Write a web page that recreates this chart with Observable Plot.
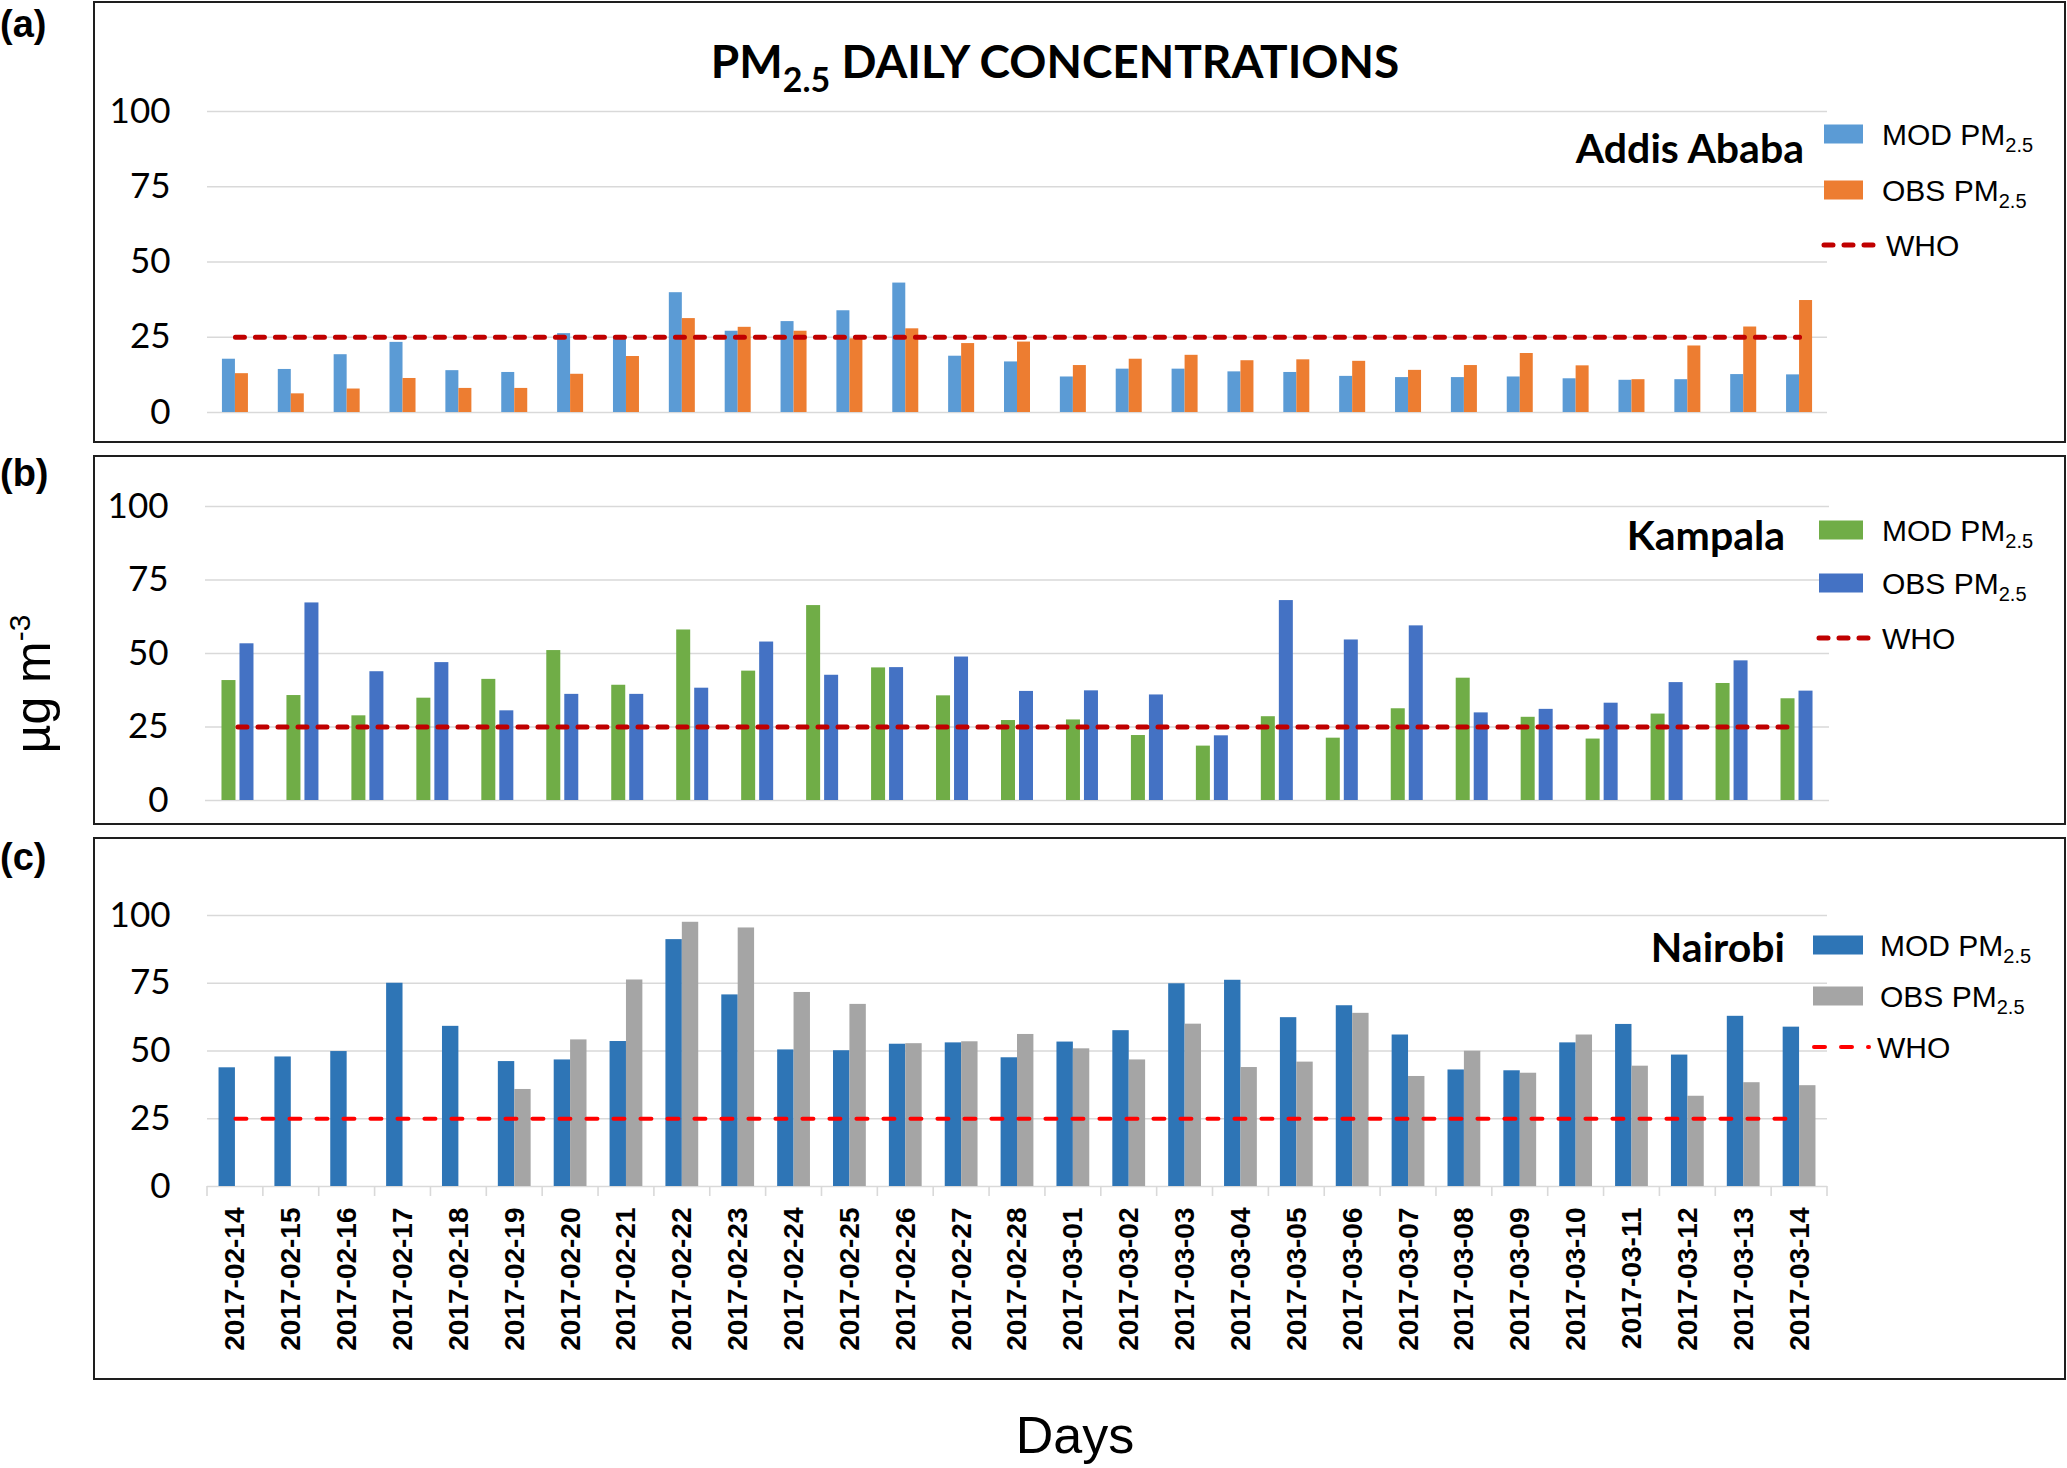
<!DOCTYPE html>
<html>
<head>
<meta charset="utf-8">
<script src="https://cdn.jsdelivr.net/npm/d3@7"></script>
<script src="https://cdn.jsdelivr.net/npm/@observablehq/plot@0.6"></script>
<style>
  html, body { margin: 0; padding: 0; background: #fff; overflow: hidden; }
  #root { position: relative; width: 2067px; height: 1468px; background: #fff; overflow: hidden; }
  .box { position: absolute; border: 2.5px solid #1e1e1e; box-sizing: border-box; }
  .plot { position: absolute; left: 0; }
  .overlay { position: absolute; left: 0; top: 0; }
</style>
</head>
<body>
<div id="root"></div>
<script>
// ---------------- DATA ----------------
const days = ["2017-02-14","2017-02-15","2017-02-16","2017-02-17","2017-02-18","2017-02-19","2017-02-20",
  "2017-02-21","2017-02-22","2017-02-23","2017-02-24","2017-02-25","2017-02-26","2017-02-27","2017-02-28",
  "2017-03-01","2017-03-02","2017-03-03","2017-03-04","2017-03-05","2017-03-06","2017-03-07","2017-03-08",
  "2017-03-09","2017-03-10","2017-03-11","2017-03-12","2017-03-13","2017-03-14"];
const kampalaDays = ["1","2","3","4","5","6","7","8","9","10","11","12","13","14","15","16","17","18","19","20","21","22","23","24","25"];
const tickValues = [0, 25, 50, 75, 100];
const whoLimit = 25;

const addisMod = [17.7,14.3,19.2,23.3,13.9,13.3,26.2,25.3,39.8,27.0,30.2,33.8,43.0,18.7,16.8,11.8,14.4,14.4,13.5,13.3,12.0,11.6,11.6,11.8,11.2,10.7,10.9,12.6,12.5];
const addisObs = [12.9,6.2,7.8,11.3,8.0,8.0,12.7,18.6,31.2,28.3,27.0,24.5,27.8,22.9,23.4,15.6,17.7,19.0,17.2,17.5,17.0,14.0,15.6,19.6,15.5,10.9,22.1,28.4,37.2];

const kampalaMod = [40.8,35.7,28.8,34.8,41.2,51.0,39.2,58.0,44.0,66.3,45.1,35.6,27.2,27.4,22.1,18.5,28.5,21.2,31.2,41.6,28.3,20.9,29.4,39.8,34.6];
const kampalaObs = [53.3,67.2,43.8,46.9,30.5,36.1,36.1,38.2,53.9,42.6,45.2,48.8,37.1,37.3,35.9,22.0,68.0,54.6,59.4,29.8,31.0,33.1,40.1,47.5,37.2];

const nairobiMod = [43.8,47.8,49.8,75.0,59.1,46.1,46.7,53.5,91.1,70.7,50.4,50.1,52.5,53.0,47.5,53.3,57.5,74.8,76.1,62.3,66.7,55.9,43.0,42.7,53.0,59.8,48.5,62.8,58.8];
const nairobiObs = [null,null,null,null,null,35.8,54.1,76.2,97.5,95.4,71.6,67.2,52.7,53.4,56.1,50.8,46.7,59.9,43.9,45.9,63.9,40.6,49.9,41.8,55.9,44.4,33.3,38.3,37.2];

const seriesNames = ["MOD PM", "OBS PM"];
const subText = "2.5";

// ---------------- LAYOUT ----------------
const W = 2067, H = 1468;
const panels = [
  { tag: "(a)", tagY: 37, city: "Addis Ababa", cityX: 1804, cityY: 163,
    cats: days, mod: addisMod, obs: addisObs,
    modColor: "#5B9BD5", obsColor: "#ED7D31", whoColor: "#C00000",
    boxTop: 1, boxH: 442, top: 0, height: 443, mt: 111, mb: 31, ml: 207, mr: 240,
    barW: 13, gap: 0, whoWidth: 5, whoDash: "9,11", showX: false,
    leg: { sx: 1824, sw: 39, sh: 19, c: [134, 190], who: 245, tx: 1882, wx1: 1824, wx2: 1873, wtx: 1886 } },
  { tag: "(b)", tagY: 486, city: "Kampala", cityX: 1785, cityY: 550,
    cats: kampalaDays, mod: kampalaMod, obs: kampalaObs,
    modColor: "#70AD47", obsColor: "#4472C4", whoColor: "#C00000",
    boxTop: 455, boxH: 370, top: 455, height: 370, mt: 51, mb: 25, ml: 205, mr: 238,
    barW: 14, gap: 2, whoWidth: 5, whoDash: "9,11", showX: false,
    leg: { sx: 1819, sw: 44, sh: 19, c: [530, 583], who: 638, tx: 1882, wx1: 1819, wx2: 1868, wtx: 1882 } },
  { tag: "(c)", tagY: 870, city: "Nairobi", cityX: 1785, cityY: 962,
    cats: days, mod: nairobiMod, obs: nairobiObs,
    modColor: "#2E75B6", obsColor: "#A5A5A5", whoColor: "#FF0000",
    boxTop: 837, boxH: 543, top: 837, height: 543, mt: 78, mb: 194, ml: 207, mr: 240,
    barW: 16.4, gap: 0, whoWidth: 4, whoDash: "11,16", showX: true,
    leg: { sx: 1813, sw: 50, sh: 19, c: [945, 996], who: 1047, tx: 1880, wx1: 1814, wx2: 1869, wtx: 1877 } }
];

const root = document.getElementById("root");

function boundaryTicks(cats) {
  return (index, scales) => {
    const x = scales.x, y = scales.y;
    const bw = typeof x.bandwidth === "function" ? x.bandwidth() : (x.bandwidth || 0);
    const edges = cats.map(c => x(c)).concat([x(cats[cats.length - 1]) + bw]);
    const y0 = y(0);
    const g = d3.create("svg:g").attr("stroke", "#d9d9d9").attr("stroke-width", 1.6);
    g.selectAll("line").data(edges).join("line")
      .attr("x1", d => d).attr("x2", d => d).attr("y1", y0).attr("y2", y0 + 10);
    return g.node();
  };
}

for (const p of panels) {
  const box = document.createElement("div");
  box.className = "box";
  Object.assign(box.style, { left: "93px", top: p.boxTop + "px", width: (2066 - 93) + "px", height: p.boxH + "px" });
  root.appendChild(box);

  const n = p.cats.length;
  const step = (W - p.ml - p.mr) / n;
  const half = step / 2;
  const modRows = p.cats.map((c, i) => ({ c, v: p.mod[i] })).filter(d => d.v != null);
  const obsRows = p.cats.map((c, i) => ({ c, v: p.obs[i] })).filter(d => d.v != null);

  const marks = [
    Plot.gridY(tickValues, { stroke: "#d9d9d9", strokeOpacity: 1, strokeWidth: 1.6 }),
    Plot.axisY(tickValues, { tickSize: 0, tickPadding: 37, fontSize: 35, fontFamily: "Lato, sans-serif", label: null }),
    Plot.barY(modRows, { x: "c", y: "v", fill: p.modColor, insetLeft: half - p.gap - p.barW, insetRight: half + p.gap }),
    Plot.barY(obsRows, { x: "c", y: "v", fill: p.obsColor, insetLeft: half + p.gap, insetRight: half - p.gap - p.barW }),
    Plot.lineY(p.cats, { x: d => d, y: () => whoLimit, stroke: p.whoColor, strokeWidth: p.whoWidth,
      strokeDasharray: p.whoDash, strokeLinecap: "round" })
  ];
  if (p.showX) {
    marks.push(Plot.axisX({ tickRotate: -90, tickSize: 0, tickPadding: 21, fontSize: 28, fontWeight: "bold",
      fontFamily: "'Liberation Sans', Arial, sans-serif", label: null }));
    marks.push(boundaryTicks(p.cats));
  }

  const chart = Plot.plot({
    width: W, height: p.height,
    marginTop: p.mt, marginBottom: p.mb, marginLeft: p.ml, marginRight: p.mr,
    x: { type: "band", domain: p.cats, padding: 0, round: false, axis: null, label: null },
    y: { domain: [0, 100], axis: null, label: null },
    style: { background: "transparent", color: "#000", fontFamily: "Lato, sans-serif", overflow: "visible" },
    marks
  });
  chart.classList.add("plot");
  chart.style.top = p.top + "px";
  chart.style.position = "absolute";
  chart.style.left = "0px";
  root.appendChild(chart);
}

// ---------------- TEXT OVERLAY ----------------
const ov = d3.select(root).append("svg").attr("class", "overlay").attr("width", W).attr("height", H);
const ARIAL = "'Liberation Sans', Arial, sans-serif";

// title
const title = ov.append("text").attr("x", 1055).attr("y", 78).attr("text-anchor", "middle")
  .attr("font-family", "Lato, sans-serif").attr("font-weight", "bold").attr("font-size", 46).attr("fill", "#000");
title.append("tspan").text("PM");
title.append("tspan").attr("font-size", 34).attr("dy", 14).text(subText);
title.append("tspan").attr("dy", -14).text(" DAILY CONCENTRATIONS");

// y label
const yl = ov.append("text").attr("transform", "translate(50,684) rotate(-90)").attr("text-anchor", "middle")
  .attr("font-family", ARIAL).attr("font-size", 50).attr("fill", "#000");
yl.append("tspan").text("µg m");
yl.append("tspan").attr("font-size", 30).attr("dy", -20).text("-3");

// x label
ov.append("text").attr("x", 1075).attr("y", 1453).attr("text-anchor", "middle")
  .attr("font-family", ARIAL).attr("font-size", 52).attr("fill", "#000").text("Days");

for (const p of panels) {
  ov.append("text").attr("x", 0).attr("y", p.tagY).attr("font-family", ARIAL).attr("font-weight", "bold")
    .attr("font-size", 38).attr("fill", "#000").text(p.tag);
  ov.append("text").attr("x", p.cityX).attr("y", p.cityY).attr("text-anchor", "end")
    .attr("font-family", "Lato, sans-serif").attr("font-weight", "bold").attr("font-size", 41).attr("fill", "#000").text(p.city);

  const L = p.leg;
  const cols = [p.modColor, p.obsColor];
  cols.forEach((col, i) => {
    ov.append("rect").attr("x", L.sx).attr("y", L.c[i] - L.sh / 2).attr("width", L.sw).attr("height", L.sh).attr("fill", col);
    const t = ov.append("text").attr("x", L.tx).attr("y", L.c[i] + 11).attr("font-family", ARIAL)
      .attr("font-size", 30).attr("fill", "#000");
    t.append("tspan").text(seriesNames[i]);
    t.append("tspan").attr("font-size", 20).attr("dy", 7).text(subText);
  });
  ov.append("line").attr("x1", L.wx1).attr("x2", L.wx2).attr("y1", L.who).attr("y2", L.who)
    .attr("stroke", p.whoColor).attr("stroke-width", p.whoWidth).attr("stroke-dasharray", p.whoDash)
    .attr("stroke-linecap", "round");
  ov.append("text").attr("x", L.wtx).attr("y", L.who + 11).attr("font-family", ARIAL)
    .attr("font-size", 30).attr("fill", "#000").text("WHO");
}
</script>
</body>
</html>
